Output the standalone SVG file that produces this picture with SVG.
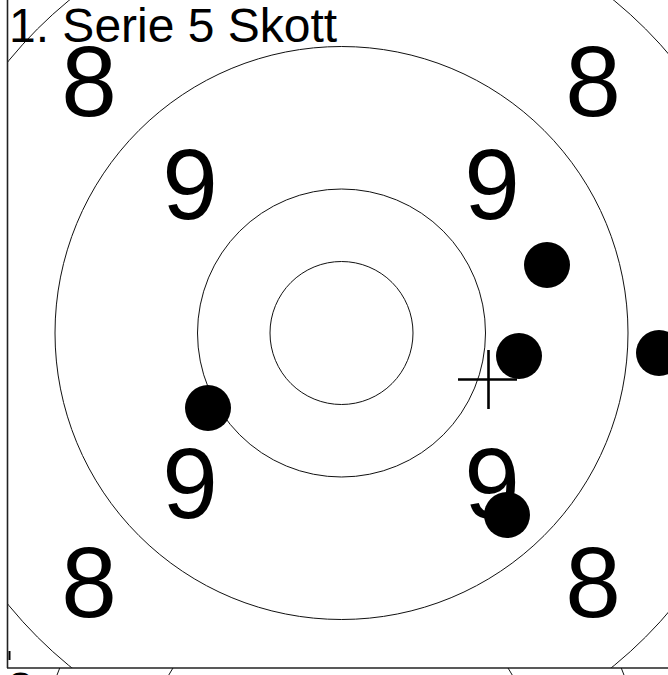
<svg xmlns="http://www.w3.org/2000/svg" width="668" height="675" viewBox="0 0 668 675">
<style>
.ring{fill:none;stroke:#111;stroke-width:1}
.num{font-family:"Liberation Sans",Arial,sans-serif;font-size:100px;fill:#000;text-anchor:middle}
.title{font-family:"Liberation Sans",Arial,sans-serif;font-size:48px;fill:#000}
.shot{fill:#000}
.frame{stroke:#222;stroke-width:1.6;fill:none}
</style>
<defs>
<clipPath id="c1"><rect x="8" y="0" width="670" height="668"/></clipPath>
<clipPath id="c2"><rect x="8" y="668" width="670" height="10"/></clipPath>
</defs>
<rect width="668" height="675" fill="#fff"/>
<g id="target1" clip-path="url(#c1)">
  <g id="rings">
    <circle class="ring" cx="341.5" cy="333" r="71.5"/>
    <circle class="ring" cx="341.5" cy="333" r="144"/>
    <circle class="ring" cx="341.5" cy="333" r="286.5"/>
    <circle class="ring" cx="341.5" cy="333" r="430"/>
  </g>
  <g id="labels">
    <text class="num" x="89" y="116">8</text>
    <text class="num" x="593" y="116">8</text>
    <text class="num" x="89" y="617">8</text>
    <text class="num" x="593" y="617">8</text>
    <text class="num" x="190" y="219">9</text>
    <text class="num" x="492" y="219">9</text>
    <text class="num" x="190" y="518">9</text>
    <text class="num" x="492" y="518">9</text>
  </g>
  <g id="shots">
    <circle class="shot" cx="547" cy="265" r="23"/>
    <circle class="shot" cx="519" cy="356" r="23"/>
    <circle class="shot" cx="659" cy="353" r="23"/>
    <circle class="shot" cx="208" cy="408" r="23"/>
    <circle class="shot" cx="507" cy="515" r="23"/>
  </g>
  <g id="aim" stroke="#000" stroke-width="2.6">
    <line x1="458" y1="379.5" x2="517" y2="379.5"/>
    <line x1="488.5" y1="350" x2="488.5" y2="409"/>
  </g>
</g>
<text id="title" class="title" x="9" y="42">1. Serie 5 Skott</text>
<g id="frame">
  <line class="frame" x1="7.5" y1="0" x2="7.5" y2="668"/>
  <line class="frame" x1="7" y1="668" x2="668" y2="668"/>
  <line stroke="#000" stroke-width="2" x1="9.5" y1="651" x2="9.5" y2="660"/>
</g>
<g id="target2" clip-path="url(#c2)">
  <circle class="ring" cx="340.5" cy="779" r="201"/>
  <circle class="ring" cx="340.5" cy="779" r="302"/>
  <text class="title" x="7" y="706">2</text>
</g>
</svg>
